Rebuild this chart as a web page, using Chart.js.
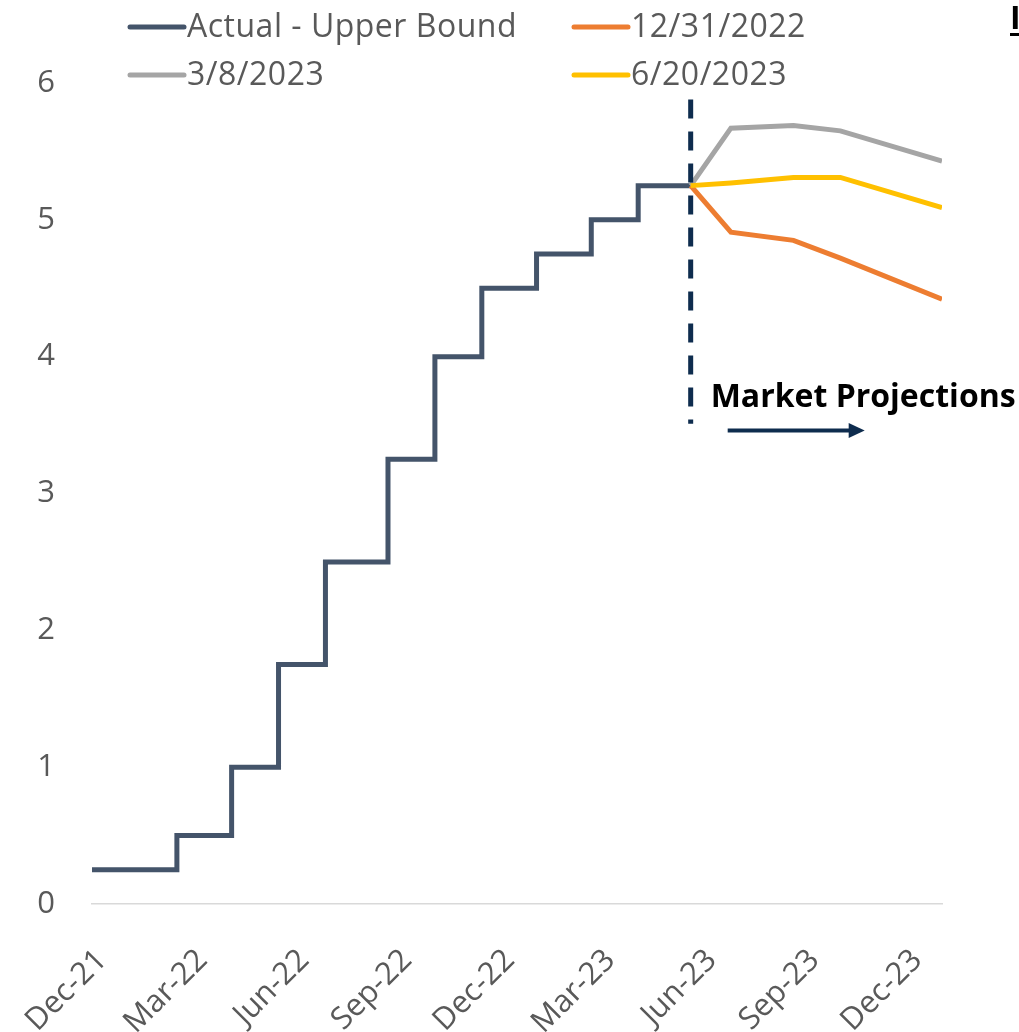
<!DOCTYPE html>
<html><head><meta charset="utf-8">
<script src="https://cdn.jsdelivr.net/npm/chart.js@4.4.1/dist/chart.umd.min.js"></script>
<style>html,body{margin:0;padding:0;background:#fff;} #wrap{width:1019px;height:1032px;position:relative;}</style>
</head><body><div id="wrap"><canvas id="c" width="1019" height="1032"></canvas></div>
<script>
// ---------- data ----------
const seriesNames = ['Actual - Upper Bound', '12/31/2022', '3/8/2023', '6/20/2023'];
const actualDates = ['2021-12-31','2022-03-17','2022-05-05','2022-06-16','2022-07-28','2022-09-22','2022-11-03','2022-12-15','2023-02-02','2023-03-23','2023-05-04','2023-06-20'];
const actualValues = [0.25, 0.5, 1.0, 1.75, 2.5, 3.25, 4.0, 4.5, 4.75, 5.0, 5.25, 5.25];
const projectionDates = ['2023-06-20','2023-07-26','2023-09-20','2023-11-01','2024-01-31'];
const proj20221231 = [5.25, 4.91, 4.85, 4.72, 4.42];
const proj20230308 = [5.25, 5.67, 5.69, 5.65, 5.43];
const proj20230620 = [5.25, 5.27, 5.31, 5.31, 5.09];
const tickDates = ['2021-12-31','2022-03-31','2022-06-30','2022-09-30','2022-12-31','2023-03-31','2023-06-30','2023-09-30','2023-12-31'];
const tickLabels = ['Dec-21','Mar-22','Jun-22','Sep-22','Dec-22','Mar-23','Jun-23','Sep-23','Dec-23'];
const yTicks = [0, 1, 2, 3, 4, 5, 6];
const markerDate = '2023-06-20';
const annotationText = 'Market Projections';

// ---------- helpers ----------
const ORIGIN = Date.UTC(2021, 11, 31);
function dayNum(s) { const p = s.split('-').map(Number); return (Date.UTC(p[0], p[1]-1, p[2]) - ORIGIN) / 86400000; }
function pts(dates, vals) { return dates.map((d, i) => ({ x: dayNum(d), y: vals[i] })); }

const colors = ['#44546A', '#ED7D31', '#A5A5A5', '#FFC000'];
const FONT = '"Open Sans", "DejaVu Sans", sans-serif';
const GRAY_TEXT = '#595959';

const datasets = [
  { label: seriesNames[0], data: pts(actualDates, actualValues), borderColor: colors[0], borderWidth: 5, stepped: 'before', borderJoinStyle: 'miter', order: 4 },
  { label: seriesNames[1], data: pts(projectionDates, proj20221231), borderColor: colors[1], borderWidth: 5, order: 3 },
  { label: seriesNames[2], data: pts(projectionDates, proj20230308), borderColor: colors[2], borderWidth: 5, order: 2 },
  { label: seriesNames[3], data: pts(projectionDates, proj20230620), borderColor: colors[3], borderWidth: 5, order: 1 }
];
datasets.forEach(d => { d.pointRadius = 0; d.fill = false; d.tension = 0; d.borderCapStyle = 'butt'; });

const overlay = {
  id: 'overlay',
  afterDraw(chart) {
    const ctx = chart.ctx, xs = chart.scales.x, ys = chart.scales.y;
    ctx.save();
    // dashed marker line
    const mx = xs.getPixelForValue(dayNum(markerDate));
    ctx.strokeStyle = '#0E2C4E';
    ctx.lineWidth = 5;
    ctx.setLineDash([19, 13]);
    ctx.beginPath();
    ctx.moveTo(mx, ys.getPixelForValue(5.88));
    ctx.lineTo(mx, ys.getPixelForValue(3.51));
    ctx.stroke();
    ctx.setLineDash([]);
    // arrow
    const ay = ys.getPixelForValue(3.46);
    const ax0 = mx + 37, ax1 = mx + 160, tip = mx + 174;
    ctx.strokeStyle = '#0E2C4E';
    ctx.fillStyle = '#0E2C4E';
    ctx.lineWidth = 4;
    ctx.beginPath(); ctx.moveTo(ax0, ay); ctx.lineTo(ax1, ay); ctx.stroke();
    ctx.beginPath(); ctx.moveTo(tip, ay); ctx.lineTo(ax1 - 2, ay - 7.5); ctx.lineTo(ax1 - 2, ay + 7.5); ctx.closePath(); ctx.fill();
    // annotation text
    ctx.fillStyle = '#000';
    ctx.font = 'bold 32px ' + FONT;
    ctx.textAlign = 'left';
    ctx.textBaseline = 'alphabetic';
    ctx.fillText(annotationText, mx + 20, ys.getPixelForValue(3.63));
    // clipped title fragment at top right
    ctx.font = 'bold 32px ' + FONT;
    ctx.fillText('I', 1010, 29);
    ctx.fillRect(1010, 33, 10, 3);
    // legend (2 columns, row-major)
    ctx.font = '32px ' + FONT;
    ctx.letterSpacing = '0.5px';
    ctx.textBaseline = 'middle';
    const colX = [128, 572], rowY = [27, 75];
    chart.data.datasets.forEach((ds, i) => {
      const cx = colX[i % 2], cy = rowY[Math.floor(i / 2)];
      ctx.strokeStyle = ds.borderColor;
      ctx.lineWidth = 5;
      ctx.lineCap = 'round';
      ctx.beginPath(); ctx.moveTo(cx + 2, cy); ctx.lineTo(cx + 56, cy); ctx.stroke();
      ctx.fillStyle = GRAY_TEXT;
      ctx.fillText(ds.label, cx + 59, cy + 1);
    });
    ctx.restore();
  }
};

new Chart(document.getElementById('c'), {
  type: 'line',
  data: { datasets },
  options: {
    responsive: false,
    animation: false,
    events: [],
    layout: { padding: { left: 0, right: 77, top: 83, bottom: 0 } },
    plugins: { legend: { display: false }, tooltip: { enabled: false } },
    scales: {
      x: {
        type: 'linear',
        min: 0,
        max: dayNum(projectionDates[projectionDates.length - 1]),
        grid: { display: false, drawTicks: false },
        border: { display: true, color: '#D9D9D9', width: 1.5 },
        afterBuildTicks(s) { s.ticks = tickDates.map(d => ({ value: dayNum(d) })); },
        afterFit(s) { s.height = 128; s.paddingLeft = 0; s.paddingRight = 0; },
        ticks: {
          autoSkip: false,
          minRotation: 45, maxRotation: 45,
          padding: 38,
          labelOffset: 10,
          color: GRAY_TEXT,
          font: { family: FONT, size: 31 },
          callback(v) { const i = tickDates.findIndex(d => dayNum(d) === v); return i >= 0 ? tickLabels[i] : ''; }
        }
      },
      y: {
        type: 'linear',
        min: yTicks[0], max: yTicks[yTicks.length - 1],
        grid: { display: false, drawTicks: false },
        border: { display: false },
        afterBuildTicks(s) { s.ticks = yTicks.map(v => ({ value: v })); },
        afterFit(s) { s.width = 92; },
        ticks: { padding: 37, color: GRAY_TEXT, font: { family: FONT, size: 31 } }
      }
    }
  },
  plugins: [overlay]
});
</script></body></html>
